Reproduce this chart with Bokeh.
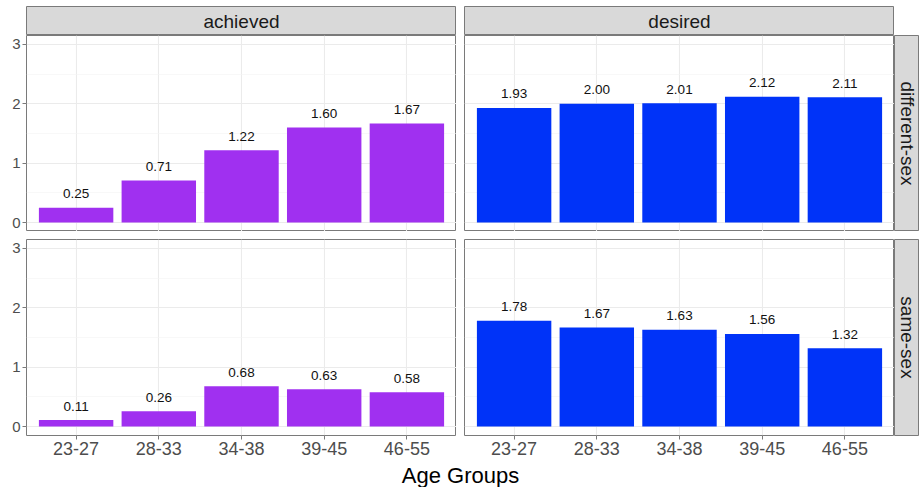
import math
from bokeh.plotting import figure
from bokeh.models import (ColumnDataSource, Range1d, FactorRange, FixedTicker,
                          Label, Spacer)
from bokeh.layouts import row, column
from bokeh.core.properties import value
from bokeh.embed import file_html
from bokeh.resources import INLINE

# ---------------- data ----------------
age_groups = ["23-27", "28-33", "34-38", "39-45", "46-55"]
achieved_different_sex = [0.25, 0.71, 1.22, 1.60, 1.67]
desired_different_sex = [1.93, 2.00, 2.01, 2.12, 2.11]
achieved_same_sex = [0.11, 0.26, 0.68, 0.63, 0.58]
desired_same_sex = [1.78, 1.67, 1.63, 1.56, 1.32]
column_facets = ["achieved", "desired"]
row_facets = ["different-sex", "same-sex"]
y_ticks = [0, 1, 2, 3]
y_minor = [0.5, 1.5, 2.5]
x_title = "Age Groups"

PURPLE = "#A030F0"
BLUE = "#0033F8"
FONT = "Liberation Sans"
BORDER = "#7A7A7A"

TOP_PAD = 6
PANEL_W = 430
PANEL_H = 196
LEFT = 26
GAP = 8
STRIP = 25
STRIP_TOP = 29
BOTTOM = 27
LAB_H = 25


def panel(vals, color, show_x, show_y, top_border=0):
    w = PANEL_W + (LEFT if show_y else GAP)
    h = PANEL_H + top_border + (BOTTOM if show_x else 0)
    xr = FactorRange(factors=age_groups, range_padding=0.1,
                     range_padding_units="absolute")
    p = figure(x_range=xr, y_range=Range1d(-0.15, 3.15), width=w, height=h,
               output_backend="svg", toolbar_location=None, tools="",
               min_border=0, title=None)
    p.min_border_left = LEFT if show_y else GAP
    p.min_border_top = top_border
    p.min_border_bottom = BOTTOM if show_x else 0
    p.min_border_right = 0
    p.background_fill_color = "white"
    p.border_fill_color = "white"
    p.outline_line_color = BORDER
    p.outline_line_width = 1

    src = ColumnDataSource(dict(x=age_groups, top=vals,
                                lab=["%.2f" % v for v in vals]))
    p.vbar(x="x", top="top", bottom=0, width=0.9, source=src,
           fill_color=color, line_color=None)
    p.text(x="x", y="top", text="lab", source=src, text_align="center",
           text_baseline="middle", y_offset=-14,
           text_font=value(FONT), text_font_size="13.5px",
           text_color="#111111")

    p.ygrid.ticker = FixedTicker(ticks=y_ticks, minor_ticks=y_minor)
    p.ygrid.grid_line_color = "#EBEBEB"
    p.ygrid.grid_line_width = 1.1
    p.ygrid.minor_grid_line_color = "#F3F3F3"
    p.ygrid.minor_grid_line_width = 0.6
    p.xgrid.grid_line_color = "#EBEBEB"
    p.xgrid.grid_line_width = 1.1

    p.yaxis.ticker = FixedTicker(ticks=y_ticks, minor_ticks=[])
    for ax in p.xaxis + p.yaxis:
        ax.axis_line_color = None
        ax.major_tick_line_color = BORDER
        ax.major_tick_out = 4
        ax.major_tick_in = 0
        ax.minor_tick_line_color = None
        ax.major_label_standoff = 2
        ax.major_label_text_font = FONT
        ax.major_label_text_color = "#4D4D4D"
    p.yaxis.major_label_text_font_size = "15px"
    p.xaxis.major_label_text_font_size = "18px"
    p.xaxis.visible = show_x
    p.yaxis.visible = show_y
    return p


def strip(text, w, h, vertical=False, top_border=0, bottom_border=0):
    s = figure(width=w, height=h, x_range=Range1d(0, 1), y_range=Range1d(0, 1),
               output_backend="svg", toolbar_location=None, tools="",
               min_border=0, title=None)
    s.min_border_top = top_border
    s.min_border_bottom = bottom_border
    s.min_border_left = 0
    s.min_border_right = 0
    s.axis.visible = False
    s.grid.visible = False
    s.background_fill_color = "#D9D9D9"
    s.border_fill_color = "white"
    s.outline_line_color = BORDER
    s.outline_line_width = 1
    s.add_layout(Label(x=0.5, y=0.5, text=text, text_align="center",
                       text_baseline="middle", text_font=FONT,
                       text_font_size="19px", text_color="#1A1A1A",
                       angle=-math.pi / 2 if vertical else 0))
    return s


strip_a = strip(column_facets[0], PANEL_W, STRIP_TOP + TOP_PAD, top_border=TOP_PAD)
strip_d = strip(column_facets[1], PANEL_W, STRIP_TOP + TOP_PAD, top_border=TOP_PAD)
row1 = row(Spacer(width=LEFT, height=STRIP_TOP + TOP_PAD), strip_a,
           Spacer(width=GAP, height=STRIP_TOP + TOP_PAD), strip_d,
           Spacer(width=STRIP, height=STRIP_TOP + TOP_PAD))

p_tl = panel(achieved_different_sex, PURPLE, False, True)
p_tr = panel(desired_different_sex, BLUE, False, False)
s_r1 = strip(row_facets[0], STRIP, PANEL_H, vertical=True)
row2 = row(p_tl, p_tr, s_r1)

p_bl = panel(achieved_same_sex, PURPLE, True, True, top_border=GAP)
p_br = panel(desired_same_sex, BLUE, True, False, top_border=GAP)
s_r2 = strip(row_facets[1], STRIP, PANEL_H + GAP + BOTTOM, vertical=True,
             top_border=GAP, bottom_border=BOTTOM)
row3 = row(p_bl, p_br, s_r2)

TOTAL_W = LEFT + PANEL_W + GAP + PANEL_W + STRIP
xl = figure(width=TOTAL_W, height=LAB_H, x_range=Range1d(0, TOTAL_W),
            y_range=Range1d(0, LAB_H), output_backend="svg",
            toolbar_location=None, tools="", min_border=0, title=None)
xl.axis.visible = False
xl.grid.visible = False
xl.outline_line_color = None
xl.add_layout(Label(x=LEFT + (2 * PANEL_W + GAP) / 2, y=LAB_H / 2,
                    text=x_title, text_align="center", text_baseline="middle",
                    text_font=FONT, text_font_size="22px",
                    text_color="black"))

layout = column(row1, row2, row3, xl)

open("out.html", "w").write(file_html(layout, INLINE))
